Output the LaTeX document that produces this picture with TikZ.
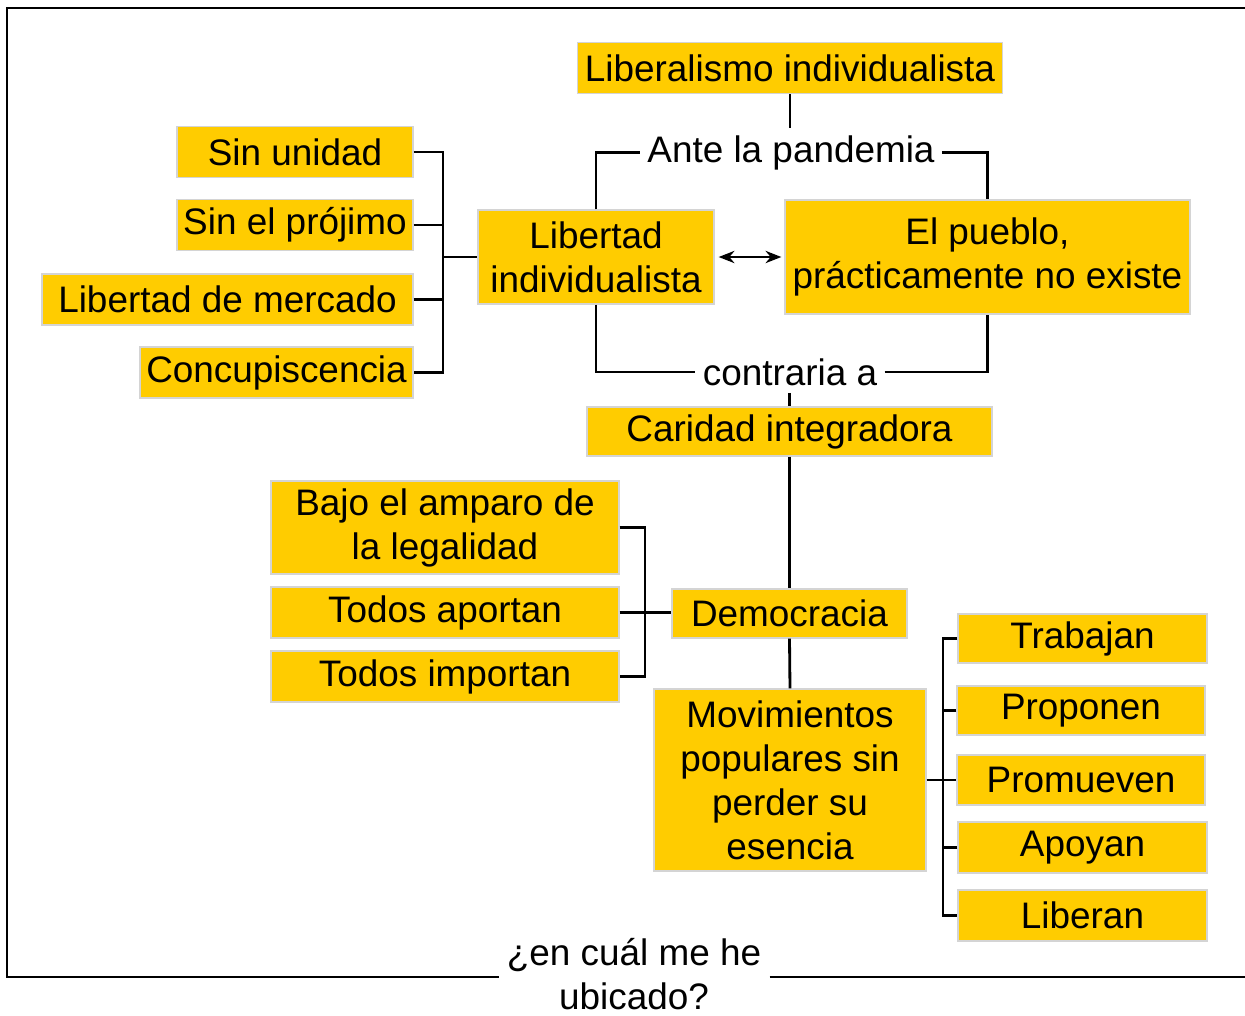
\documentclass[tikz,border=0pt]{standalone}
\usepackage{fontspec}
\setmainfont{Liberation Sans}
\usepackage{xcolor}
\usepackage{tikz}
\usetikzlibrary{calc,arrows.meta}
\definecolor{gold}{HTML}{FFCC00}
\definecolor{edge}{HTML}{D4D4D4}
\tikzset{
  box/.style={fill=gold, draw=edge, line width=0.8pt, inner sep=0pt, align=center,
    font=\fontsize{21}{25}\selectfont},
  lab/.style={font=\fontsize{21}{25}\selectfont, inner sep=4pt, align=center},
  link/.style={line width=1.6pt, draw=black},
  frame/.style={line width=1.5pt, draw=black}
}

\begin{document}
\begin{tikzpicture}[x=0.02cm, y=-0.02cm]
  \useasboundingbox (0,0) rectangle (1245,1015);
  \clip (0,0) rectangle (1245,1015);

  % upper part
  \node[box, minimum width=8.5cm, minimum height=1.02cm] (liberal) at (790,68) {Liberalismo individualista};
  \node[box, minimum width=4.72cm, minimum height=1.02cm] (sinunidad) at (295,152) {Sin unidad};
  \node[box, minimum width=4.72cm, minimum height=1.02cm] (sinprojimo) at (295,225) {Sin el prójimo};
  \node[box, minimum width=7.42cm, minimum height=1.02cm] (mercado) at (227.5,299.5) {Libertad de mercado};
  \node[box, minimum width=5.46cm, minimum height=1.02cm] (concup) at (276.5,372.5) {Concupiscencia};
  \node[box, minimum width=4.72cm, minimum height=1.88cm] (libertad) at (596,257) {Libertad\\individualista};
  \node[box, minimum width=8.1cm, minimum height=2.28cm] (pueblo) at (987.5,257) {El pueblo,\\prácticamente no existe};
  \node[lab, anchor=base] (ante) at (791,162) {Ante la pandemia};
  \node[lab] (contra) at (790,372) {contraria a};
  \node[box, minimum width=8.1cm, minimum height=0.98cm] (caridad) at (789.5,431.5) {Caridad integradora};

  % lower part
  \node[box, minimum width=4.7cm, minimum height=0.98cm] (democracia) at (789.5,613.5) {Democracia};
  \node[box, minimum width=6.96cm, minimum height=1.86cm] (bajo) at (445,527.5) {Bajo el amparo de\\la legalidad};
  \node[box, minimum width=6.96cm, minimum height=1.02cm] (aportan) at (445,612.5) {Todos aportan};
  \node[box, minimum width=6.96cm, minimum height=1.02cm] (importan) at (445,676.5) {Todos importan};
  \node[box, minimum width=5.44cm, minimum height=3.64cm] (movim) at (790,780) {Movimientos\\populares sin\\perder su\\esencia};
  \node[box, minimum width=4.98cm, minimum height=0.98cm] (trabajan) at (1082.5,638.5) {Trabajan};
  \node[box, minimum width=4.96cm, minimum height=0.98cm] (proponen) at (1081,710.5) {Proponen};
  \node[box, minimum width=4.96cm, minimum height=1.0cm] (promueven) at (1081,780) {Promueven};
  \node[box, minimum width=4.98cm, minimum height=1.02cm] (apoyan) at (1082.5,847.5) {Apoyan};
  \node[box, minimum width=4.98cm, minimum height=1.02cm] (liberan) at (1082.5,915.5) {Liberan};
  \node[lab, inner sep=0pt] (pregunta) at (634,974) {¿en cuál me he\\ubicado?};

  \coordinate (lb) at (443,257);
  \coordinate (mb) at (645,612);
  \coordinate (rb) at (943,780);

  % left bracket
  \draw[link] (sinunidad.east) -- (sinunidad.east -| lb) -- (concup.east -| lb) -- (concup.east);
  \draw[link] (sinprojimo.east) -- (sinprojimo.east -| lb);
  \draw[link] (mercado.east) -- (mercado.east -| lb);
  \draw[link] (lb) -- (libertad.west);

  % ante la pandemia / contraria a
  \draw[link] (liberal.south) -- (liberal.south |- ante.north);
  \draw[link] (libertad.north) |- (ante.west);
  \draw[link] (ante.east) -| (pueblo.north);
  \draw[link] (libertad.south) |- (contra.west);
  \draw[link] (contra.east) -| (pueblo.south);
  \draw[link] (caridad.north |- contra.south) -- (caridad.north);
  \draw[line width=1.2pt, {Stealth[length=9pt,width=7pt]}-{Stealth[length=9pt,width=7pt]},
    shorten <=0.08cm, shorten >=0.06cm] (libertad.east) -- (pueblo.west);

  % democracia
  \draw[link] (caridad.south) -- (democracia.north);
  \draw[link] (democracia.south) -- (movim.north);
  \draw[link] (bajo.east) -- (bajo.east -| mb) -- (importan.east -| mb) -- (importan.east);
  \draw[link] (aportan.east) -- (aportan.east -| democracia.west);

  % right bracket
  \draw[link] (trabajan.west) -- (trabajan.west -| rb) -- (liberan.west -| rb) -- (liberan.west);
  \draw[link] (proponen.west) -- (proponen.west -| rb);
  \draw[link] (apoyan.west) -- (apoyan.west -| rb);
  \draw[link] (movim.east) -- (promueven.west);

  % frame
  \draw[frame] ([xshift=-0.16cm]pregunta.west |- 0,977) -- (7,977) -- (7,8) -- (1260,8);
  \draw[frame] ([xshift=0.16cm]pregunta.east |- 0,977) -- (1260,977);
\end{tikzpicture}
\end{document}
